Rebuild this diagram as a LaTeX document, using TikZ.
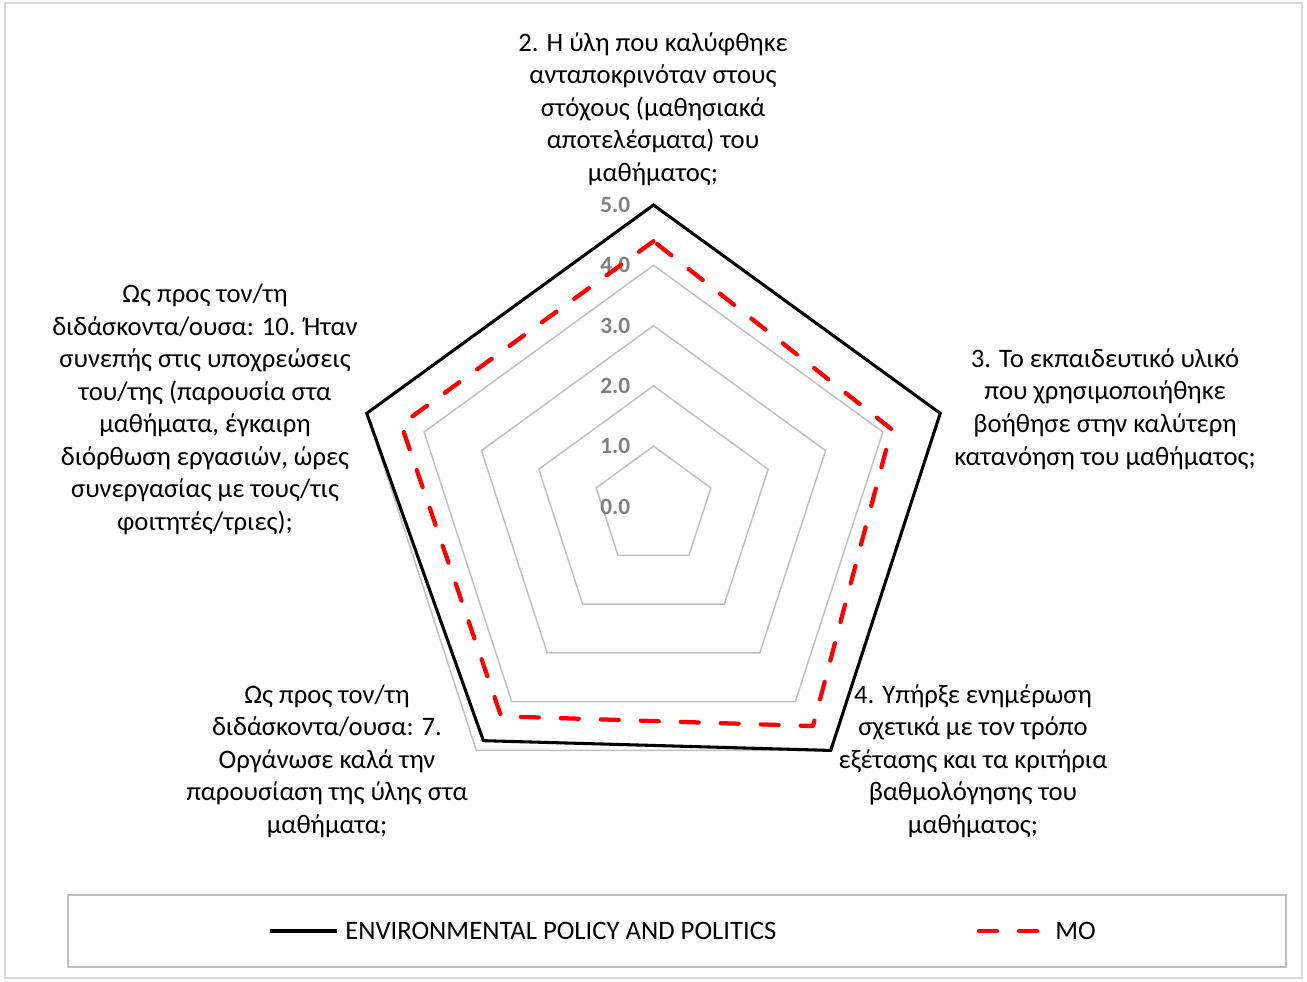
\documentclass[tikz,border=0pt]{standalone}
\usepackage{fontspec}
\setmainfont{Carlito}
\definecolor{gridgrey}{HTML}{BFBFBF}
\definecolor{ticktext}{HTML}{7F7F7F}
\definecolor{framegrey}{HTML}{D9D9D9}
\tikzstyle{question} = [align=center, inner sep=0pt, font=\fontsize{20}{24.4}\selectfont]
\tikzstyle{ticklbl} = [anchor=east, inner sep=0pt, text=ticktext, font=\fontsize{17.5}{20}\selectfont\bfseries]
\tikzstyle{ring} = [draw=gridgrey, line width=1.1pt, line join=miter]
\tikzstyle{course} = [draw=black, line width=2.3pt, line join=miter]
\tikzstyle{mean} = [draw=red, line width=3.2pt, line cap=round, line join=round, dash pattern=on 13.5pt off 16.5pt]
\tikzstyle{legtext} = [anchor=west, inner sep=0pt, font=\fontsize{20}{24}\selectfont]

\begin{document}
\begin{tikzpicture}[x=0.75pt, y=-0.75pt]
  \useasboundingbox (0,0) rectangle (1307,982);
  \draw[framegrey, line width=1.1pt] (5,3) rectangle (1302,978);

  % radar, 60.3px per unit
  \begin{scope}[shift={(653.5,506.5)}, y=0.75pt]
    \foreach \r in {1,...,5}
      \draw[ring] (90:\r*60.3) -- (18:\r*60.3) -- (-54:\r*60.3) -- (-126:\r*60.3) -- (162:\r*60.3) -- cycle;
    \foreach \v in {0,...,5}
      \node[ticklbl] (tick\v) at (-23,\v*60.3) {\v.0};
    \draw[course] (90:5*60.3) -- (18:5*60.3) -- (-54:5*60.3) -- (-126:4.8*60.3) -- (162:5*60.3) -- cycle;
    \draw[mean] (90:4.4*60.3) -- (162:4.4*60.3) -- (-126:4.3*60.3) -- (-54:4.5*60.3) -- (18:4.15*60.3) -- cycle;
  \end{scope}

  % category labels
  \node[question] (qtwo) at (653,109) {2. Η ύλη που καλύφθηκε\\ανταποκρινόταν στους\\στόχους (μαθησιακά\\αποτελέσματα) του\\μαθήματος;};
  \node[question] (qthree) at (1105,409) {3. Το εκπαιδευτικό υλικό\\που χρησιμοποιήθηκε\\βοήθησε στην καλύτερη\\κατανόηση του μαθήματος;};
  \node[question] (qfour) at (973,761) {4. Υπήρξε ενημέρωση\\σχετικά με τον τρόπο\\εξέτασης και τα κριτήρια\\βαθμολόγησης του\\μαθήματος;};
  \node[question] (qseven) at (327,761) {Ως προς τον/τη\\διδάσκοντα/ουσα: 7.\\Οργάνωσε καλά την\\παρουσίαση της ύλης στα\\μαθήματα;};
  \node[question] (qten) at (205,409.5) {Ως προς τον/τη\\διδάσκοντα/ουσα: 10. Ήταν\\συνεπής στις υποχρεώσεις\\του/της (παρουσία στα\\μαθήματα, έγκαιρη\\διόρθωση εργασιών, ώρες\\συνεργασίας με τους/τις\\φοιτητές/τριες);};

  % legend
  \draw[gridgrey, line width=1.1pt] (68,895) rectangle (1286,967);
  \coordinate (courseA) at (270,931);
  \coordinate (courseB) at (337,931);
  \draw[course] (courseA) -- (courseB);
  \node[legtext] (coursetext) at (345,931) {ENVIRONMENTAL POLICY AND POLITICS};
  \coordinate (meanA) at (979,931);
  \coordinate (meanB) at (1040,931);
  \draw[mean] (meanA) -- (meanB);
  \node[legtext] (meantext) at (1055,931) {MO};
\end{tikzpicture}
\end{document}
